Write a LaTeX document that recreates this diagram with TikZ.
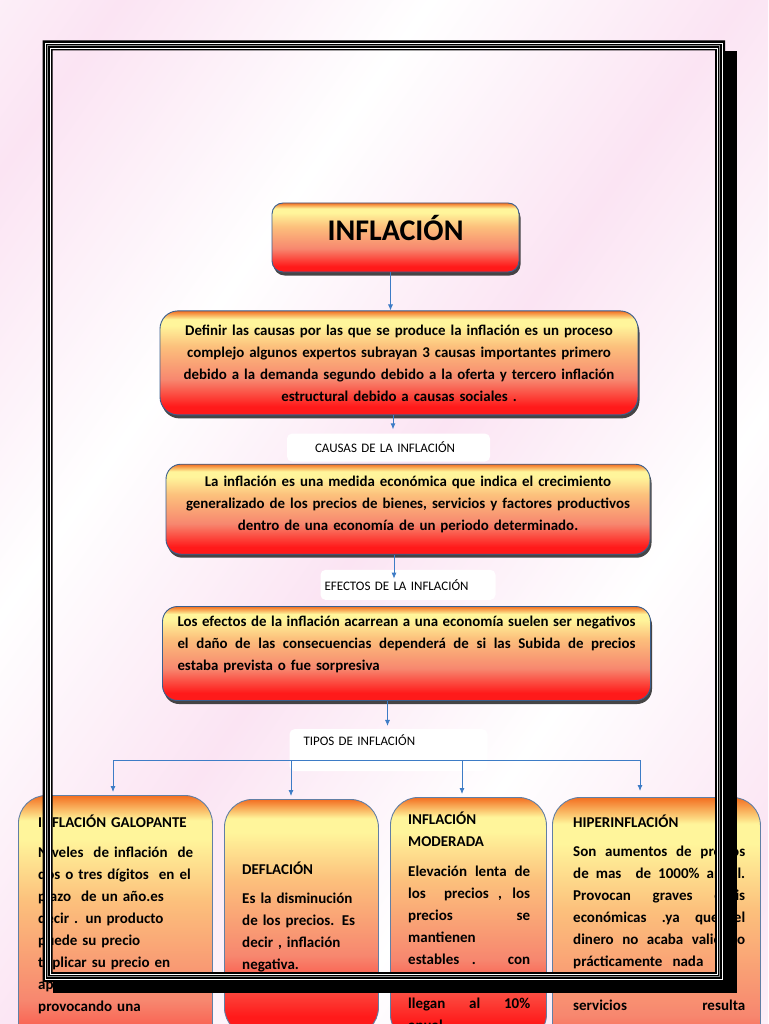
\documentclass[tikz,border=0pt]{standalone}
\usepackage{fontspec}
\setmainfont{Carlito}
\usepackage{tikz}
\usetikzlibrary{positioning,arrows.meta,shadows}

\definecolor{boxorange}{HTML}{F36F21}
\definecolor{boxyellow}{HTML}{FFF59B}
\definecolor{boxpeach}{HTML}{FCC07C}
\definecolor{boxsalmon}{HTML}{F7876F}
\definecolor{boxred}{HTML}{FF1A1A}
\definecolor{boxedge}{HTML}{3A5F8E}
\definecolor{linkblue}{HTML}{3D7CC6}
\definecolor{bgpink}{HTML}{FBE4F3}

\pgfdeclareverticalshading{boxgrad}{100bp}{color(0bp)=(boxred); color(29bp)=(boxred); color(42bp)=(boxsalmon); color(58bp)=(boxpeach); color(68bp)=(boxyellow); color(71bp)=(boxyellow); color(75bp)=(boxorange); color(100bp)=(boxorange)}
\pgfdeclarehorizontalshading{bgstripes}{100bp}{color(0bp)=(white); color(10bp)=(bgpink); color(20bp)=(white); color(30bp)=(bgpink); color(40bp)=(white); color(50bp)=(bgpink); color(60bp)=(white); color(70bp)=(bgpink); color(80bp)=(white); color(90bp)=(bgpink); color(100bp)=(white)}

% linea justificada a un ancho dado
\newcommand{\justline}[2]{\makebox[#1][s]{\spaceskip=0pt \xspaceskip=0pt #2}}

\tikzset{
  card/.style={draw=boxedge, line width=0.9pt, shade, shading=boxgrad, rounded corners=15pt,
    drop shadow={shadow xshift=1.5pt, shadow yshift=-3.5pt, fill=black!85, opacity=0.85}},
  cardtext/.style={font=\fontsize{14.9}{22}\selectfont\bfseries, align=center},
  tag/.style={fill=white, rounded corners=5pt, font=\fontsize{13}{15}\selectfont, align=left},
  link/.style={draw=linkblue, line width=0.8pt, -{Latex[length=6pt,width=5pt]}},
  column/.style={draw=boxedge!80!white, line width=0.9pt, shade, shading=boxgrad, rounded corners=28pt, anchor=north west},
  coltext/.style={font=\fontsize{15}{22}\selectfont\bfseries, align=left, anchor=north west, inner sep=0pt},
}

\begin{document}
\begin{tikzpicture}[x=1pt, y=-1pt]
\useasboundingbox (0,0) rectangle (768,1024);
\clip (0,0) rectangle (768,1024);
\shade[shading=bgstripes, shading angle=-35] (-200,-200) rectangle (968,1224);

% cadena central
\node[card, rounded corners=11pt, minimum width=247pt, minimum height=69pt, text height=20pt, text depth=14pt, font=\fontsize{30}{30}\selectfont\bfseries] (titulo) at (395.5,237.5) {INFLACIÓN};
\node[card, cardtext, rounded corners=18pt, minimum width=478pt, minimum height=104pt, text width=462pt, below=38pt of titulo, xshift=3.5pt] (causas) {Definir las causas por las que se produce la inflación es un proceso\\ complejo algunos expertos subrayan 3 causas importantes primero\\ debido a la demanda segundo debido a la oferta y tercero inflación\\ estructural debido a causas sociales .};
\node[tag, below=18pt of causas, xshift=-10.5pt, minimum height=28pt, text width=147pt, inner xsep=28pt] (lblcausas) {CAUSAS DE LA INFLACIÓN};
\node[card, cardtext, minimum width=484pt, minimum height=90pt, text width=470pt, text depth=55pt, below=2pt of lblcausas, xshift=19.5pt] (medida) {La inflación es una medida económica que indica el crecimiento\\ generalizado de los precios de bienes, servicios y factores productivos\\ dentro de una economía de un periodo determinado.};
\node[tag, below=15pt of medida, minimum height=30pt, text width=167pt, inner xsep=4pt] (lblefectos) {EFECTOS DE LA INFLACIÓN};
\node[card, cardtext, align=left, minimum width=488pt, minimum height=94pt, text width=458pt, text depth=65pt, below=6pt of lblefectos, xshift=-1.5pt] (efectos) {\justline{458pt}{Los efectos de la inflación acarrean a una economía suelen ser negativos}\\ \justline{458pt}{el daño de las consecuencias dependerá de si las Subida de precios}\\ estaba prevista o fue sorpresiva};
\node[tag, below=28pt of efectos, xshift=-18pt, minimum height=42pt, text width=170pt, text height=9pt, text depth=19pt, inner xsep=14pt] (lbltipos) {TIPOS DE INFLACIÓN};

\draw[link] ([xshift=-5pt]titulo.south) -- ([xshift=-5pt]titulo.south |- causas.north);
\draw[link, shorten >=4pt] ([xshift=-6pt]causas.south) -- ([xshift=-6pt]causas.south |- lblcausas.north);
\draw[link, shorten >=-9pt] ([xshift=-14pt]medida.south) -- ([xshift=-14pt]medida.south |- lblefectos.north);
\draw[link, shorten >=3pt] ([xshift=-19pt]efectos.south) -- ([xshift=-19pt]efectos.south |- lbltipos.north);

% tipos de inflacion
\node[column, minimum width=194pt, minimum height=310pt] (galopante) at (18,795) {};
\node[column, minimum width=154pt, minimum height=236pt] (deflacion) at (224,799) {};
\node[column, minimum width=156pt, minimum height=245pt] (moderada) at (390,797) {};
\node[column, minimum width=208pt, minimum height=330pt] (hiper) at (552,797) {};

\node[coltext, text width=175pt] (galopantetxt) at ([xshift=20pt, yshift=-20pt]galopante.north west) {INFLACIÓN GALOPANTE\\[8pt] Niveles\ \ de inflación\ \ de\\ dos o tres dígitos\ \ en el\\ plazo\ \ de un año.es\\ decir . un producto\\ puede su precio\\ triplicar su precio en\\ ap\\ provocando una};
\node[coltext, text width=130pt] (deflaciontxt) at ([xshift=18pt, yshift=-63pt]deflacion.north west) {DEFLACIÓN\\[7pt] Es la disminución\\ de los precios. Es\\ decir , inflación\\ negativa.};
\node[coltext, text width=122pt] (moderadatxt) at ([xshift=18pt, yshift=-15pt]moderada.north west) {INFLACIÓN\\ MODERADA\\[8pt] \justline{122pt}{Elevación lenta de}\\ \justline{122pt}{los\ \ precios , los}\\ \justline{122pt}{precios se}\\ mantienen\\ \justline{122pt}{estables . con}\\ ~\\ \justline{122pt}{llegan al 10\%}\\ anual};
\node[coltext, text width=172pt] (hipertxt) at ([xshift=21pt, yshift=-18pt]hiper.north west) {HIPERINFLACIÓN\\[7pt] \justline{172pt}{Son aumentos de precios}\\ \justline{172pt}{de mas\ \ de 1000\% anual.}\\ \justline{172pt}{Provocan graves crisis}\\ \justline{172pt}{económicas .ya que el}\\ \justline{172pt}{dinero no acaba valiendo}\\ prácticamente\hspace{10pt}nada\\ ~\\ \justline{172pt}{servicios resulta}};

\coordinate (bar1) at (113,760);
\coordinate (bar2) at (291,760);
\coordinate (bar3) at (462,760);
\coordinate (bar4) at (640,760);
\draw[linkblue, line width=0.8pt] (bar1) -- (bar4);
\draw[link, shorten >=3pt] (bar1) -- (bar1 |- galopante.north);
\draw[link, shorten >=3pt] (bar2) -- (bar2 |- deflacion.north);
\draw[link, shorten >=3pt] (bar3) -- (bar3 |- moderada.north);
\draw[link, shorten >=6pt] (bar4) -- (bar4 |- hiper.north);

% marco de la pagina
\fill[black] (725,51) rectangle (737,993);
\fill[black] (53,982) rectangle (737,993);
\fill[black, even odd rule] (42.5,40.5) rectangle (725,982) (52.5,50.5) rectangle (715,972);
\draw[white, line width=1pt] (45.3,43.3) rectangle (722.2,979.2);
\draw[black!45, line width=1.2pt] (47.8,45.8) rectangle (719.7,976.7);
\draw[white, line width=0.9pt] (50.3,48.3) rectangle (717.2,974.2);
\end{tikzpicture}
\end{document}
